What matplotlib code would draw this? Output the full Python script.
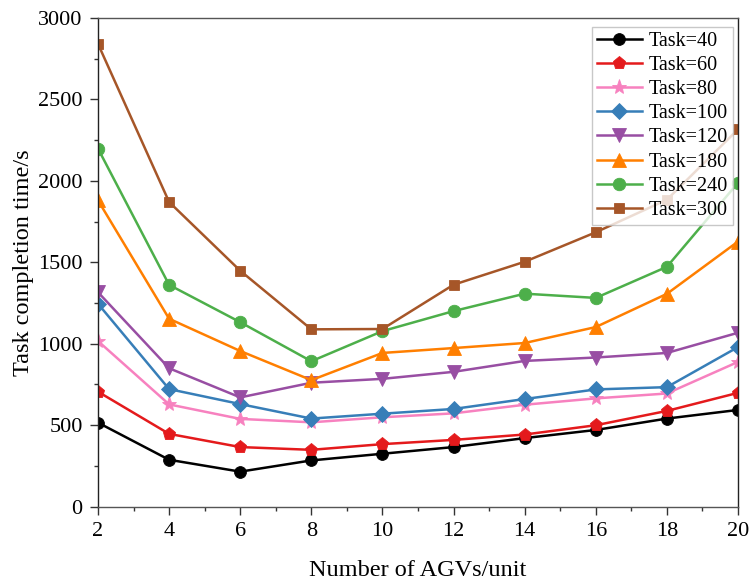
import matplotlib
matplotlib.use("Agg")
import matplotlib.pyplot as plt
from matplotlib.ticker import MultipleLocator

plt.rcParams['font.family'] = ['Liberation Serif', 'DejaVu Serif']

agvs = [2, 4, 6, 8, 10, 12, 14, 16, 18, 20]
task40 = [515, 287, 214, 283, 324, 365, 420, 470, 540, 593]
task60 = [705, 446, 365, 348, 383, 409, 442, 499, 587, 698]
task80 = [1016, 627, 538, 517, 548, 572, 625, 664, 694, 888]
task100 = [1245, 721, 629, 540, 570, 599, 660, 719, 733, 979]
task120 = [1316, 849, 670, 760, 784, 827, 894, 915, 943, 1067]
task180 = [1880, 1153, 955, 776, 943, 973, 1004, 1102, 1306, 1627]
task240 = [2198, 1361, 1132, 892, 1077, 1200, 1307, 1281, 1472, 1988]
task300 = [2841, 1870, 1448, 1088, 1090, 1362, 1503, 1684, 1884, 2316]

labels = ["Task=40", "Task=60", "Task=80", "Task=100", "Task=120",
          "Task=180", "Task=240", "Task=300"]
series = [task40, task60, task80, task100, task120, task180, task240, task300]
colors = ["#000000", "#e41a1c", "#f781bf", "#377eb8", "#984ea3",
          "#ff7f00", "#4daf4a", "#a65628"]
markers = ["o", "p", "*", "D", "v", "^", "o", "s"]
msizes = [8.5, 9.5, 11, 8.5, 9.5, 9.5, 9, 7.5]

fig = plt.figure(figsize=(7.51, 5.83), dpi=100)
ax = fig.add_axes([98/751, 1-506.5/583, 640/751, (506.5-18)/583])

for ys, lab, c, m, ms in zip(series, labels, colors, markers, msizes):
    ax.plot(agvs, ys, color=c, marker=m, markersize=ms, linewidth=1.8,
            label=lab, markeredgecolor=c, markeredgewidth=0.6)

ax.set_xlim(2, 20)
ax.set_ylim(0, 3000)
ax.xaxis.set_major_locator(MultipleLocator(2))
ax.xaxis.set_minor_locator(MultipleLocator(1))
ax.yaxis.set_major_locator(MultipleLocator(500))
ax.yaxis.set_minor_locator(MultipleLocator(250))
ax.tick_params(axis='both', which='major', direction='out', length=6,
               width=1.0, pad=5, labelsize=16, colors='#333333',
               labelcolor='black')
ax.tick_params(axis='both', which='minor', direction='out', length=3,
               width=1.0, colors='#333333')
for s in ax.spines.values():
    s.set_color('#555555')
    s.set_linewidth(1.0)
ax.spines['left'].set_color('#222222')
ax.spines['right'].set_color('#222222')

ax.set_xlabel("Number of AGVs/unit", fontsize=17.5, labelpad=14)
ax.set_ylabel("Task completion time/s", fontsize=17.5, labelpad=3)

leg = ax.legend(loc='upper right', fontsize=14.5, frameon=True, fancybox=False,
                edgecolor='#bbbbbb', handlelength=2.2, borderpad=0.25,
                labelspacing=0.25, handletextpad=0.35, borderaxespad=0,
                bbox_to_anchor=(0.992, 0.982))
leg.get_frame().set_linewidth(1.0)

fig.savefig("out.png", dpi=100)
